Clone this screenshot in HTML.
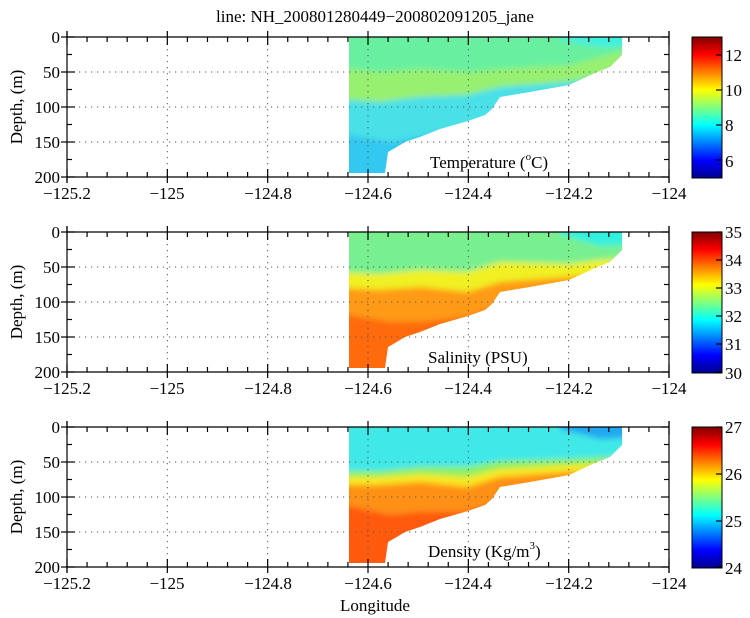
<!DOCTYPE html>
<html><head><meta charset="utf-8"><style>
html,body{margin:0;padding:0;background:#fff;}
svg{display:block;}
text,tspan{font-family:"Liberation Serif",serif;font-size:17px;fill:#000;}
</style></head><body>
<svg id="s" width="750" height="618" viewBox="0 0 750 618" xmlns="http://www.w3.org/2000/svg">
<defs>
<linearGradient id="jet" x1="0" y1="1" x2="0" y2="0">
<stop offset="0" stop-color="#00008f"/><stop offset="0.125" stop-color="#0000ff"/>
<stop offset="0.375" stop-color="#00ffff"/><stop offset="0.625" stop-color="#ffff00"/>
<stop offset="0.875" stop-color="#ff0000"/><stop offset="1" stop-color="#800000"/>
</linearGradient>
<filter id="bl" x="-5%" y="-5%" width="110%" height="110%"><feGaussianBlur stdDeviation="3"/></filter>
<clipPath id="c1"><polygon points="349,0 622,0 622,18 610,30 595,36 569,48 530,55 500,60 492,72 485,78 468,84 440,92 420,100 405,105 395,111 388,115 385,136 349,136"/></clipPath>
</defs>
<text x="375" y="22" text-anchor="middle">line: NH_200801280449−200802091205_jane</text>

<g transform="translate(0,37)">
<g clip-path="url(#c1)"><g filter="url(#bl)">
<rect x="330" y="-10" width="310" height="160" fill="#30c8f0"/>
<polygon points="330,-10 640,-10 640,60 569,60 500,75 468,90 420,100 390,105 330,95" fill="#48e0e8"/>
<polygon points="330,-10 640,-10 640,35 600,40 569,45 500,50 468,58 420,60 380,65 330,62" fill="#98f070"/>
<polygon points="330,-10 640,-10 640,10 600,20 569,28 500,32 468,35 420,32 380,35 330,30" fill="#68f0a0"/>
<polygon points="560,-10 640,-10 640,8 600,10 560,2" fill="#40f0e0"/>
</g></g>
</g>
<g transform="translate(0,232)">
<g clip-path="url(#c1)"><g filter="url(#bl)">
<rect x="330" y="-10" width="310" height="160" fill="#ff6a10"/>
<polygon points="330,-10 640,-10 640,90 500,75 468,85 420,90 390,90 330,80" fill="#ff9a18"/>
<polygon points="330,-10 640,-10 640,40 569,45 500,50 468,60 420,55 380,58 330,55" fill="#f0f020"/>
<polygon points="330,-10 640,-10 640,25 600,28 569,32 500,30 468,40 420,38 380,42 330,40" fill="#78f090"/>
<polygon points="560,-10 640,-10 640,12 600,14 560,2" fill="#30f0e0"/>
</g></g>
</g>
<g transform="translate(0,427)">
<g clip-path="url(#c1)"><g filter="url(#bl)">
<rect x="330" y="-10" width="310" height="160" fill="#ff5a10"/>
<polygon points="330,-10 640,-10 640,90 500,75 468,85 420,85 390,88 330,75" fill="#ff9018"/>
<polygon points="330,-10 640,-10 640,48 569,45 500,50 468,60 420,55 380,58 330,58" fill="#f8e820"/>
<polygon points="330,-10 640,-10 640,36 569,38 500,42 468,50 420,47 380,50 330,50" fill="#90f060"/>
<polygon points="330,-10 640,-10 640,28 569,32 500,34 468,40 420,40 380,44 330,44" fill="#40e8e8"/>
<polygon points="560,-10 640,-10 640,10 600,12 560,2" fill="#20a8f0"/>
</g></g>
</g>
<g id="axes"></g>

<text x="430" y="168">Temperature (<tspan dy="-8" style="font-size:11px">o</tspan><tspan dy="8">C)</tspan></text>
<text x="428" y="363">Salinity (PSU)</text>
<text x="428" y="557">Density (Kg/m<tspan dy="-8" style="font-size:11px">3</tspan><tspan dy="8">)</tspan></text>
<text x="375" y="611" text-anchor="middle">Longitude</text>
<text transform="translate(22,107) rotate(-90)" text-anchor="middle">Depth, (m)</text>
<text transform="translate(22,302) rotate(-90)" text-anchor="middle">Depth, (m)</text>
<text transform="translate(22,497) rotate(-90)" text-anchor="middle">Depth, (m)</text>

<g text-anchor="end">
<text x="60" y="43">0</text><text x="60" y="78">50</text><text x="60" y="113">100</text><text x="60" y="148">150</text><text x="60" y="183">200</text>
<text x="60" y="238">0</text><text x="60" y="273">50</text><text x="60" y="308">100</text><text x="60" y="343">150</text><text x="60" y="378">200</text>
<text x="60" y="433">0</text><text x="60" y="468">50</text><text x="60" y="503">100</text><text x="60" y="538">150</text><text x="60" y="573">200</text>
</g>
<g text-anchor="middle">
<text x="67" y="199">−125.2</text><text x="167" y="199">−125</text><text x="268" y="199">−124.8</text><text x="368" y="199">−124.6</text><text x="468" y="199">−124.4</text><text x="569" y="199">−124.2</text><text x="669" y="199">−124</text>
<text x="67" y="394">−125.2</text><text x="167" y="394">−125</text><text x="268" y="394">−124.8</text><text x="368" y="394">−124.6</text><text x="468" y="394">−124.4</text><text x="569" y="394">−124.2</text><text x="669" y="394">−124</text>
<text x="67" y="589">−125.2</text><text x="167" y="589">−125</text><text x="268" y="589">−124.8</text><text x="368" y="589">−124.6</text><text x="468" y="589">−124.4</text><text x="569" y="589">−124.2</text><text x="669" y="589">−124</text>
</g>
<rect x="692" y="37" width="30" height="141" fill="url(#jet)" stroke="#000"/>
<rect x="692" y="232" width="30" height="141" fill="url(#jet)" stroke="#000"/>
<rect x="692" y="427" width="30" height="141" fill="url(#jet)" stroke="#000"/>
<g>
<text x="725" y="61">12</text><text x="725" y="96">10</text><text x="725" y="131">8</text><text x="725" y="167">6</text>
<text x="725" y="238">35</text><text x="725" y="266">34</text><text x="725" y="294">33</text><text x="725" y="322">32</text><text x="725" y="350">31</text><text x="725" y="379">30</text>
<text x="725" y="433">27</text><text x="725" y="480">26</text><text x="725" y="527">25</text><text x="725" y="574">24</text>
</g>
<g id="cbt"></g>
</svg>
<script>
var ns="http://www.w3.org/2000/svg",ax=document.getElementById("axes"),cb=document.getElementById("cbt");
function L(p,x1,y1,x2,y2,d){var l=document.createElementNS(ns,"line");l.setAttribute("x1",x1);l.setAttribute("y1",y1);l.setAttribute("x2",x2);l.setAttribute("y2",y2);l.setAttribute("stroke","#000");l.setAttribute("stroke-width",d?"1":"1.2");if(d){l.setAttribute("stroke-dasharray","1.2,4.8");l.setAttribute("stroke","#555");}p.appendChild(l);}
[37,232,427].forEach(function(t){var b=t+140,l=67,r=669;
for(var k=1;k<6;k++){var x=l+k*100.33;L(ax,x,t,x,b,1);}
for(var k=1;k<4;k++){var y=t+k*35;L(ax,l,y,r,y,1);}
L(ax,l,t,r,t);L(ax,l,b,r,b);L(ax,l,t-6,l,b+6);L(ax,r,t-6,r,b+6);
for(var k=0;k<=30;k++){var x=l+k*20.067,h=(k%5==0)?8:5;L(ax,x,t-(k%5==0?6:0),x,t+h);L(ax,x,b-h,x,b+(k%5==0?6:0));}
for(var k=0;k<=8;k++){var y=t+k*17.5,h=(k%2==0)?8:5;L(ax,l-(k%2==0?6:0),y,l+h,y);L(ax,r-h,y,r,y);}
});
[[37,[55,90,125,160]],[232,[232,260,288,316,344,372]],[427,[427,474,521,567]]].forEach(function(a){a[1].forEach(function(y){L(cb,716,y,722,y);});});
</script>
</body></html>
